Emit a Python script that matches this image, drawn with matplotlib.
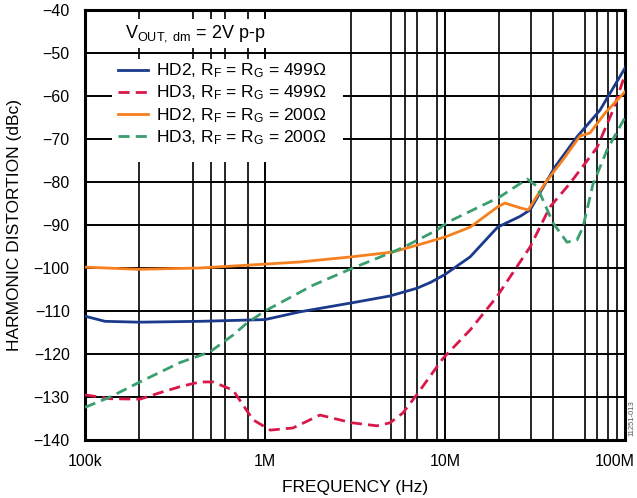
import numpy as np
import matplotlib
matplotlib.use('Agg')
import matplotlib.pyplot as plt
import matplotlib.transforms as mtransforms
from matplotlib.patches import Rectangle

plt.rcParams['font.family'] = ['Liberation Sans', 'DejaVu Sans']
plt.rcParams['mathtext.fontset'] = 'custom'
plt.rcParams['mathtext.rm'] = 'Liberation Sans'
plt.rcParams['mathtext.it'] = 'Liberation Sans'

# HD2, RF = RG = 499 ohm
hd2_499_f = [1e5, 1.29e5, 2e5, 4.35e5, 1e6, 1.56e6, 3.04e6, 4.95e6, 6.99e6, 8.36e6, 1e7,
             1.38e7, 1.96e7, 2.61e7, 2.97e7, 4.08e7, 5.41e7, 7.26e7, 1e8]
hd2_499_db = [-111.2, -112.4, -112.6, -112.4, -112.0, -110.2, -108.1, -106.5, -104.7, -103.3, -101.5,
              -97.4, -90.5, -88.0, -86.5, -76.5, -69.5, -63.3, -53.5]

# HD3, RF = RG = 499 ohm
hd3_499_f = [1e5, 1.38e5, 2.02e5, 2.61e5, 3.37e5, 4.35e5, 5.14e5, 6.64e5, 8.58e5, 1.07e6, 1.43e6,
             2.02e6, 3.04e6, 4.19e6, 4.95e6, 5.84e6, 7.1e6, 9.75e6, 1.38e7, 1.94e7, 2.97e7,
             3.83e7, 4.95e7, 6.99e7, 8.58e7, 1e8]
hd3_499_db = [-129.5, -130.4, -130.5, -129.0, -127.6, -126.5, -126.5, -128.4, -135.3, -137.7, -137.2,
              -134.2, -136.0, -136.7, -136.0, -133.7, -129.0, -121.0, -114.4, -106.7, -95.1,
              -85.8, -80.3, -72.0, -63.3, -55.0]

# HD2, RF = RG = 200 ohm
hd2_200_f = [1e5, 1.97e5, 4.35e5, 1e6, 1.56e6, 3.04e6, 5.1e6, 6.99e6, 1e7, 1.38e7, 1.96e7,
             2.15e7, 2.61e7, 2.9e7, 3.59e7, 4.64e7, 5.62e7, 6.39e7, 7.74e7, 1e8]
hd2_200_db = [-99.8, -100.3, -100.0, -99.1, -98.6, -97.4, -96.3, -94.7, -92.8, -90.5, -85.8,
              -84.9, -86.0, -86.5, -80.3, -74.2, -69.3, -68.6, -64.0, -59.0]

# HD3, RF = RG = 200 ohm
hd3_200_f = [1e5, 1.38e5, 2.02e5, 3.37e5, 4.95e5, 6.64e5, 7.94e5, 1e6, 1.85e6, 3.04e6, 5.1e6,
             6e6, 9e6, 1.04e7, 2.01e7, 2.86e7, 3.24e7, 3.98e7, 4.76e7, 5.41e7, 5.84e7, 6.64e7,
             7.94e7, 8.58e7, 1e8]
hd3_200_db = [-132.4, -130.0, -126.5, -122.0, -119.5, -115.6, -112.8, -110.0, -104.0, -100.1, -96.3,
              -95.0, -91.2, -89.3, -83.5, -79.3, -81.0, -89.5, -94.0, -93.5, -90.5, -80.5,
              -72.6, -70.0, -65.0]

labels = [r'HD2, R$_\mathrm{F}$ = R$_\mathrm{G}$ = 499$\Omega$',
          r'HD3, R$_\mathrm{F}$ = R$_\mathrm{G}$ = 499$\Omega$',
          r'HD2, R$_\mathrm{F}$ = R$_\mathrm{G}$ = 200$\Omega$',
          r'HD3, R$_\mathrm{F}$ = R$_\mathrm{G}$ = 200$\Omega$']
xtick_vals = [1e5, 1e6, 1e7, 1e8]
xtick_labels = ['100k', '1M', '10M', '100M']

fig = plt.figure(figsize=(6.37, 4.98), dpi=100)
ax = fig.add_axes([85 / 637, 1 - 440 / 498, 540 / 637, 430 / 498])

ax.plot(hd2_499_f, hd2_499_db, color='#1b3a8c', lw=2.0, label=labels[0], zorder=3)
ax.plot(hd3_499_f, hd3_499_db, color='#d9184a', lw=2.0, dashes=(4, 2.2), label=labels[1], zorder=3)
ax.plot(hd2_200_f, hd2_200_db, color='#f7801e', lw=2.0, label=labels[2], zorder=3)
ax.plot(hd3_200_f, hd3_200_db, color='#3a9e6e', lw=2.0, dashes=(4, 2.2), label=labels[3], zorder=3)

ax.set_xscale('log')
ax.set_xlim(1e5, 1e8)
ax.set_ylim(-140, -40)
ax.set_yticks(np.arange(-140, -39, 10))
ax.set_xticks(xtick_vals)
ax.set_xticklabels(xtick_labels)
minor = [2e5, 4e5, 5e5, 6e5, 8e5,
         3e6, 5e6, 6e6, 7e6, 9e6,
         2e7, 3e7, 4e7, 6e7, 7e7, 8e7, 9e7]
ax.set_xticks(minor, minor=True)
ax.set_xticklabels([], minor=True)
ax.set_axisbelow(True)
ax.grid(which='major', color='black', lw=1.4)
ax.grid(which='minor', axis='x', color='black', lw=1.2)
ax.tick_params(which='both', length=0, labelsize=11.5)
ax.tick_params(axis='y', pad=11)
ax.tick_params(axis='x', pad=10)
for s in ax.spines.values():
    s.set_linewidth(2.2)

# keep the 100M label inside the figure
last = ax.get_xticklabels()[-1]
last.set_transform(last.get_transform() + mtransforms.ScaledTranslation(-10 / 100, 0, fig.dpi_scale_trans))

# white boxes behind the annotation and legend
ax.add_patch(Rectangle((0.01, 0.912), 0.45, 0.066, transform=ax.transAxes,
                       facecolor='white', edgecolor='none', zorder=1))
ax.add_patch(Rectangle((0.05, 0.647), 0.428, 0.24, transform=ax.transAxes,
                       facecolor='white', edgecolor='none', zorder=1))

ax.text(0.074, 0.945, r'V$_\mathrm{OUT,\ dm}$ = 2V p-p', transform=ax.transAxes,
        fontsize=13, va='center', ha='left', zorder=4)

leg = ax.legend(loc='upper left', bbox_to_anchor=(0.062, 0.88), frameon=False,
                fontsize=12.5, handlelength=1.7, handletextpad=0.45, labelspacing=0.2,
                borderpad=0, borderaxespad=0)
leg.set_zorder(4)

ax.set_xlabel('FREQUENCY (Hz)', fontsize=12.5, labelpad=8)
ax.set_ylabel('HARMONIC DISTORTION (dBc)', fontsize=12.5, labelpad=8)

fig.text(0.992, 0.16, '11251-013', rotation=90, fontsize=5.5, color='#555555',
         ha='center', va='center')

fig.savefig('out.png', dpi=100)
